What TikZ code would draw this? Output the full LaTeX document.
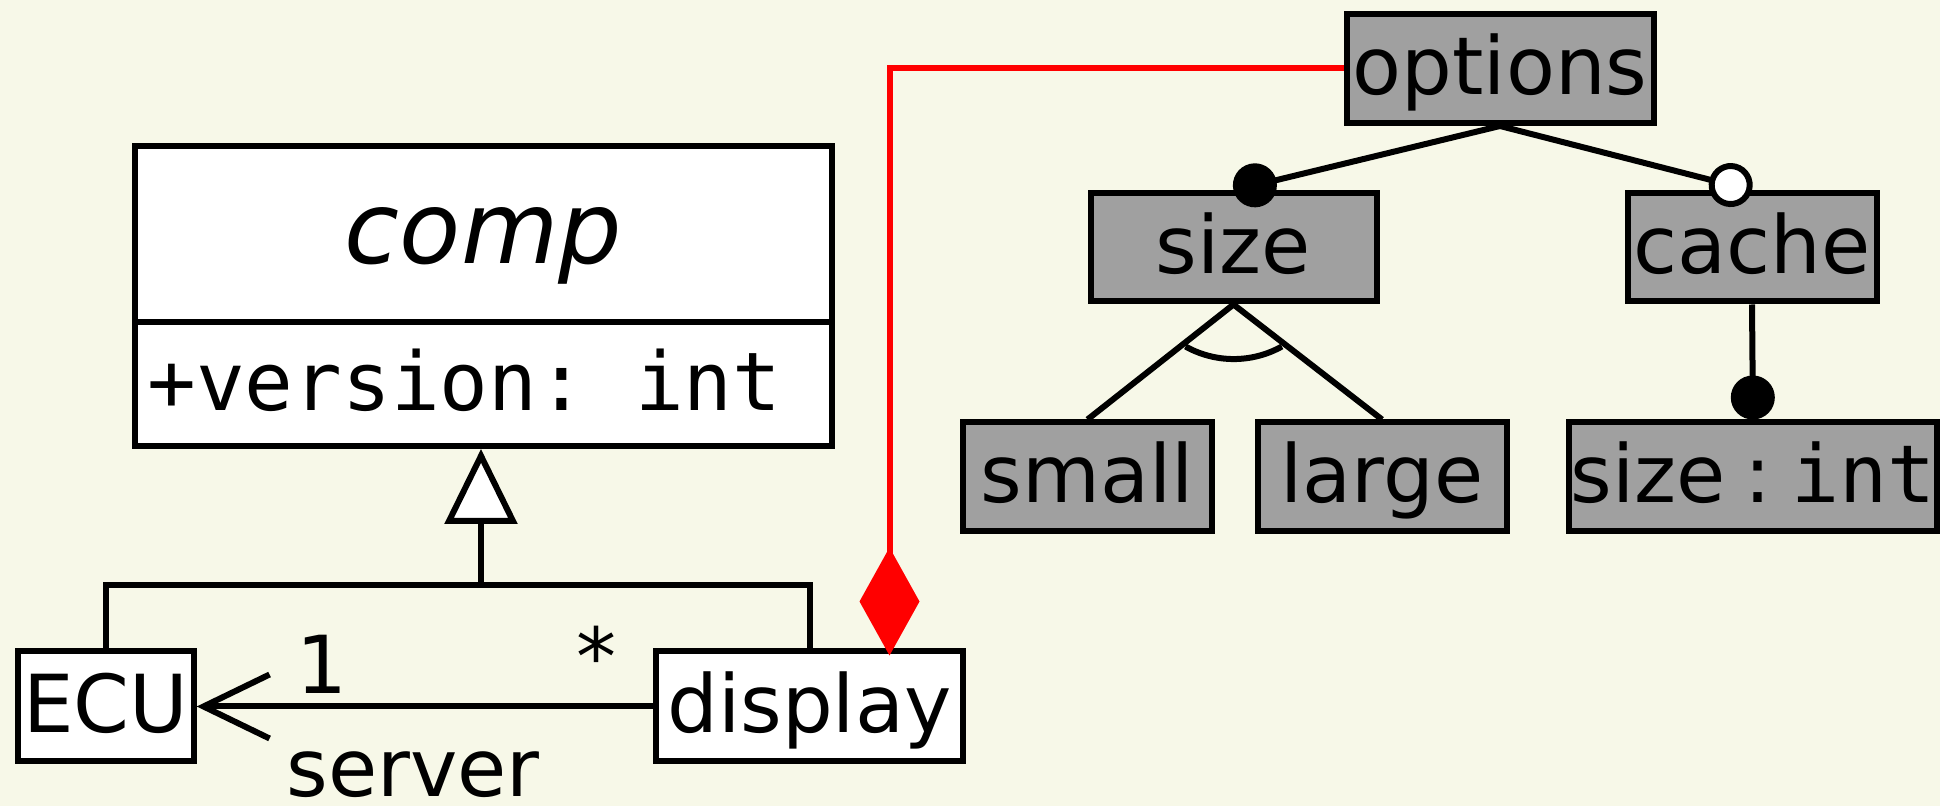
\documentclass[tikz,border=0pt]{standalone}
\usepackage{fontspec}
\setmainfont{DejaVu Sans}
\setmonofont{DejaVu Sans Mono}
\usetikzlibrary{arrows.meta}
\definecolor{bgc}{RGB}{247,248,232}
\definecolor{featgray}{RGB}{160,160,160}
\begin{document}
\begin{tikzpicture}[x=0.5pt,y=-0.5pt,
  every node/.style={font=\fontsize{40}{48}\selectfont},
  box/.style={draw, line width=3pt, fill=white, inner sep=0pt, text height=32pt, text depth=6pt},
  feat/.style={box, fill=featgray},
  conn/.style={line width=3pt},
  lbl/.style={inner sep=0pt, anchor=base}]
\fill[bgc] (0,0) rectangle (1940,806);
\useasboundingbox (0,0) rectangle (1940,806);

% feature model
\node[feat, minimum width=153.5pt, minimum height=54.5pt] (options) at (1500,68.5) {options};
\node[feat, minimum width=143pt, minimum height=54pt] (size) at (1233.5,247.5) {size};
\node[feat, minimum width=124.5pt, minimum height=54pt] (cache) at (1752,247.5) {cache};
\node[feat, minimum width=124.5pt, minimum height=54.5pt] (small) at (1087.5,477) {small};
\node[feat, minimum width=124.5pt, minimum height=54.5pt] (large) at (1382,477) {large};
\node[feat, minimum width=184pt, minimum height=54.5pt] (sizeint) at (1753,477) {size\hspace{0.24em}:\hspace{0.24em}\texttt{int}};

% class diagram
\node[box, minimum width=348.5pt, minimum height=149.75pt] (comp) at (483.5,296.25) {};
\coordinate (dv) at (0,322);
\draw[line width=3pt] (comp.west |- dv) -- (comp.east |- dv);
\node[lbl, font=\fontsize{50}{60}\selectfont\itshape] (compname) at (483.5,263.5) {comp};
\node[lbl, anchor=base west, font=\fontsize{40.5}{48}\selectfont\ttfamily] (compattr) at (147,410.7) {+version: int};

\node[box, minimum width=88pt, minimum height=55pt] (ECU) at (105.7,706.5) {ECU};
\node[box, minimum width=153.5pt, minimum height=55pt] (display) at (809.5,706.5) {display};

% generalization
\coordinate (gj) at (481,585);
\draw[conn] (ECU.north) |- (gj) -| (display.north);
\draw[conn, -{Triangle[length=37.5pt, width=36pt, fill=white]}] (gj) -- (gj |- comp.south);

% association
\draw[conn, -{Straight Barb[length=33pt, width=32pt]}] (display.west) -- (ECU.east);
\node[lbl] (m1) at (322,694) {1};
\node[lbl] (m2) at (596,686) {*};
\node[lbl] (role) at (413,797) {server};

% composition (red)
\draw[conn, red, -{Diamond[length=54pt, width=30pt]}] (options.west) -| ([xshift=40pt, yshift=-3.5pt]display.north);

% feature connectors
\draw[conn, -{Circle[length=22pt]}] (options.south) -- (size.north);
\draw[conn, -{Circle[length=22pt, fill=white]}] (options.south) -- (cache.north);
\draw[conn, -{Circle[length=22pt]}] (cache.south) -- (sizeint.north);
\draw[conn] (small.north) -- (size.south) -- (large.north);
\draw[conn] ([shift={(-48,42)}]size.south) arc[start angle=240.8, end angle=299.2, radius=49.4pt];
\end{tikzpicture}
\end{document}
